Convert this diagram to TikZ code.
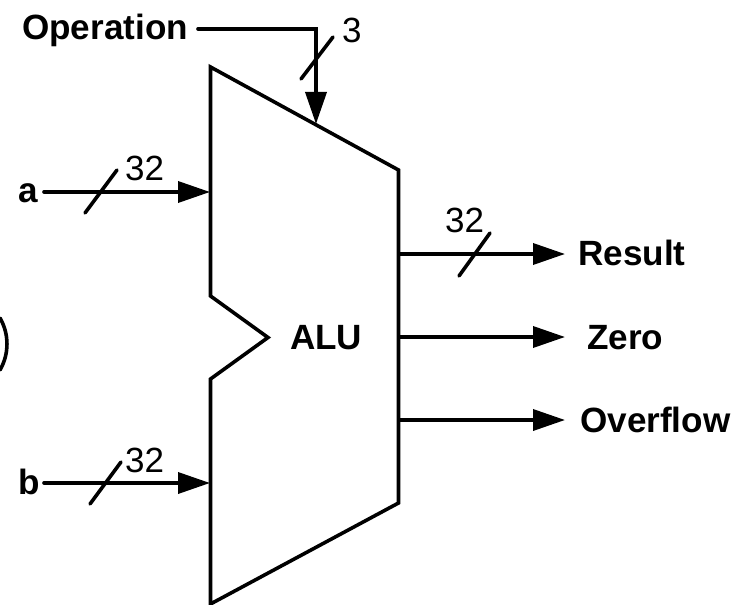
\documentclass[tikz,border=0pt]{standalone}
\usepackage{fontspec}
\setmainfont{Liberation Sans}
\usetikzlibrary{arrows.meta}
\tikzset{
 wire/.style={line width=3.6pt,line join=miter,line cap=round},
 arrowwire/.style={wire,-{Triangle[length=32bp,width=21bp]}},
 lab/.style={font=\fontsize{35.1bp}{38bp}\selectfont\bfseries,inner sep=0pt,anchor=base west},
 num/.style={font=\fontsize{35bp}{38bp}\selectfont,inner sep=0pt,anchor=base west},
}
\begin{document}
\begin{tikzpicture}[x=1bp,y=-1bp]
\useasboundingbox (0,0) rectangle (749,605);
\fill[white] (0,0) rectangle (749,605);
% ALU body
\draw[wire] (210.5,67) -- (398.5,170) -- (398.5,503) -- (210.5,604) -- (210.5,379) -- (268,337.5) -- (210.5,296) -- cycle;
% partial circle at left edge
\draw[wire] (0,318) arc[start angle=-30,end angle=30,radius=52];
% labels
\node[lab] (op) at (22,40) {Operation};
\node[lab] (a) at (18,202.5) {a};
\node[lab] (b) at (18,494) {b};
\node[lab] (alu) at (290,349) {ALU};
\node[lab] (res) at (578,265) {Result};
\node[lab] (zero) at (587,349) {Zero};
\node[lab] (ovf) at (580,432) {Overflow};
\node[num] (n3) at (342,43) {3};
\node[num] (n32a) at (125,181) {32};
\node[num] (n32b) at (125,472) {32};
\node[num] (n32r) at (445,232) {32};
% anchors
\coordinate (opS) at (198,29);
\coordinate (opC) at (316,29);
\coordinate (opE) at (316,124);
\coordinate (aS) at (44,192);
\coordinate (aE) at (210,192);
\coordinate (bS) at (44,483);
\coordinate (bE) at (210,483);
\coordinate (rS) at (399,254);
\coordinate (rE) at (565,254);
\coordinate (zS) at (399,337);
\coordinate (zE) at (565,337);
\coordinate (oS) at (399,420);
\coordinate (oE) at (565,420);
% connectors
\draw[arrowwire] (opS) -- (opC) -- (opE);
\draw[arrowwire] (aS) -- (aE);
\draw[arrowwire] (bS) -- (bE);
\draw[arrowwire] (rS) -- (rE);
\draw[arrowwire] (zS) -- (zE);
\draw[arrowwire] (oS) -- (oE);
% bus slashes
\draw[wire] (301,79) -- (333,37);
\draw[wire] (85,213) -- (117,170);
\draw[wire] (90,504) -- (121,462);
\draw[wire] (459,276) -- (490,233);
\end{tikzpicture}
\end{document}
